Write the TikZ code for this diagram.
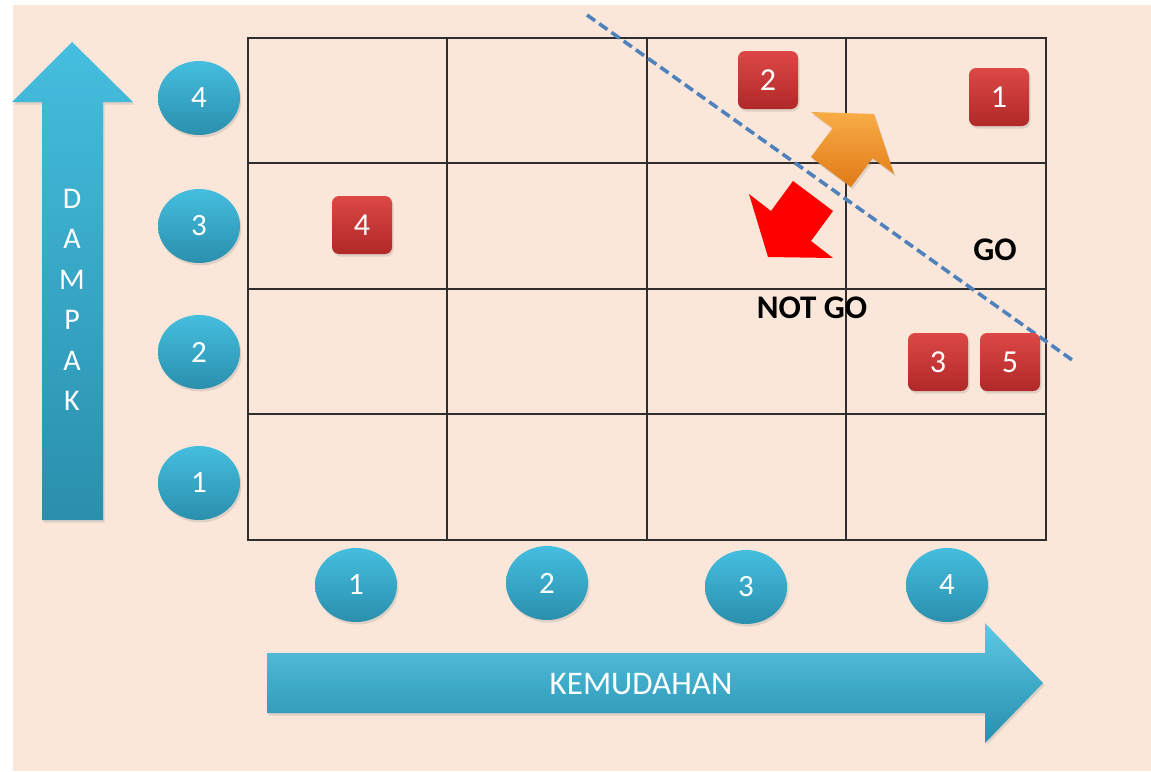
\documentclass[tikz,border=0pt]{standalone}
\usepackage{fontspec}
\setmainfont{Carlito}
\usetikzlibrary{shapes.geometric,shadows}
\definecolor{peach}{HTML}{FBE7D9}
\definecolor{bluetop}{HTML}{45BEDF}
\definecolor{bluebot}{HTML}{2A8FAD}
\definecolor{redtop}{HTML}{DC4846}
\definecolor{redbot}{HTML}{B02828}
\definecolor{gridc}{HTML}{2E2E2E}
\definecolor{dashc}{HTML}{4F81BD}
\definecolor{orangetop}{HTML}{F9AC45}
\definecolor{orangebot}{HTML}{E07A18}
\tikzset{
  softshadow/.style={drop shadow={opacity=0.22,shadow xshift=1.5pt,shadow yshift=-2.5pt}},
  numcircle/.style={ellipse, minimum width=82pt, minimum height=74pt, inner sep=0pt,
    top color=bluetop, bottom color=bluebot, draw=none, softshadow,
    text=white, font=\fontsize{31}{31}\selectfont},
  redbox/.style={rectangle, rounded corners=7pt, minimum width=60pt, minimum height=58pt,
    inner sep=0pt, top color=redtop, bottom color=redbot, draw=none, softshadow,
    text=white, font=\fontsize{32}{32}\selectfont},
  gridline/.style={draw=gridc, line width=1.6pt},
  dashline/.style={draw=dashc, line width=3.6pt, dash pattern=on 10pt off 5pt},
  boldlabel/.style={font=\fontsize{33}{33}\selectfont\bfseries, text=black, inner sep=0pt},
  axislabel/.style={font=\fontsize{33}{33}\selectfont, text=white, inner sep=0pt}
}
\begin{document}
\begin{tikzpicture}[x=1pt,y=-1pt]
\useasboundingbox (0,0) rectangle (1151,771);
\fill[white] (0,0) rectangle (1151,771);
\fill[peach] (13,5) rectangle (1151,771);

% grid
\draw[gridline] (248,38) rectangle (1046,540);
\foreach \x in {447,647,846} \draw[gridline] (\x,38) -- (\x,540);
\foreach \y in {163,289,414} \draw[gridline] (248,\y) -- (1046,\y);

% vertical axis arrow
\path[softshadow, top color=bluetop, bottom color=bluebot]
  (72,42) -- (133,102) -- (103,102) -- (103,520) -- (42,520) -- (42,102) -- (12,102) -- cycle;
\node[axislabel, align=center, font=\fontsize{30}{40.5}\selectfont] (dampak) at (72,300) {D\\A\\M\\P\\A\\K};

% horizontal axis arrow
\path[softshadow, top color=bluetop!85!white, bottom color=bluebot, middle color=bluetop!90!black]
  (267,653) -- (985,653) -- (985,623) -- (1043,683) -- (985,743) -- (985,713) -- (267,713) -- cycle;
\node[axislabel] (kemudahan) at (641,684) {KEMUDAHAN};

% axis number circles
\node[numcircle] (y4) at (199,98) {4};
\node[numcircle] (y3) at (199,226) {3};
\node[numcircle] (y2) at (199,352) {2};
\node[numcircle] (y1) at (199,483) {1};
\node[numcircle] (x1) at (356,585) {1};
\node[numcircle] (x2) at (547,583) {2};
\node[numcircle] (x3) at (746,587) {3};
\node[numcircle] (x4) at (947,585) {4};

% dashed separating line
\coordinate (dA) at (587,15);
\coordinate (dB) at (1075,362);
\draw[dashline] (dA) -- (dB);

% red boxes
\node[redbox] (b2) at (768,80) {2};
\node[redbox] (b1) at (999,97) {1};
\node[redbox] (b4) at (362,225) {4};
\node[redbox] (b3) at (938,362) {3};
\node[redbox] (b5) at (1010,362) {5};

% orange arrow (GO direction)
\path[softshadow, top color=orangetop, bottom color=orangebot]
  (811,157) -- (832.6,128.2) -- (811,112) -- (874,114) -- (894,174) -- (872.6,158.2) -- (851,187) -- cycle;

% red arrow (NOT GO direction)
\fill[red]
  (793,181) -- (771,211) -- (749,194) -- (768,257) -- (833,258) -- (811,241) -- (833,211) -- cycle;

% labels
\node[boldlabel] (notgo) at (812,308) {NOT GO};
\node[boldlabel] (go) at (995,250) {GO};
\end{tikzpicture}
\end{document}
